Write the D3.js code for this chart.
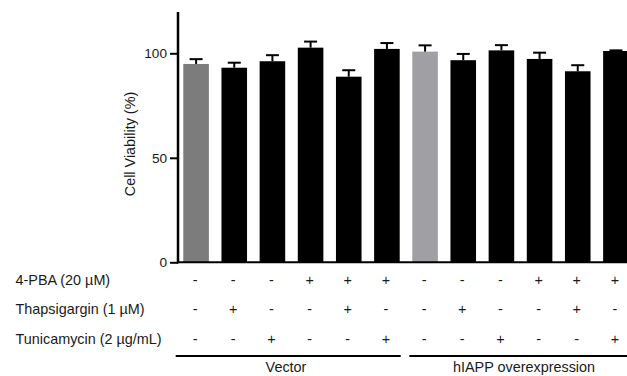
<!DOCTYPE html>
<html>
<head>
<meta charset="utf-8">
<script src="https://cdn.jsdelivr.net/npm/d3@7"></script>
<style>
  body { margin: 0; background: #fff; }
  text { font-family: "Liberation Sans", Arial, sans-serif; fill: #1a1a1a; }
</style>
</head>
<body>
<div id="main"></div>
<script>
// data
var conditions = ["v1", "v2", "v3", "v4", "v5", "v6", "h1", "h2", "h3", "h4", "h5", "h6"];
var viability = [94.9, 93.1, 96.2, 102.7, 88.8, 102.1, 100.8, 96.7, 101.4, 97.3, 91.4, 101.1];
var errors = [2.3, 2.4, 2.9, 2.9, 3.1, 2.8, 3.0, 3.0, 2.5, 3.0, 2.9, 0.3];
var barColors = ["#7c7c7c", "#000", "#000", "#000", "#000", "#000",
                 "#a0a0a4", "#000", "#000", "#000", "#000", "#000"];
var treatments = ["4-PBA (20 µM)", "Thapsigargin (1 µM)", "Tunicamycin (2 µg/mL)"];
var pba      = ["-", "-", "-", "+", "+", "+", "-", "-", "-", "+", "+", "+"];
var thapsi   = ["-", "+", "-", "-", "+", "-", "-", "+", "-", "-", "+", "-"];
var tunica   = ["-", "-", "+", "-", "-", "+", "-", "-", "+", "-", "-", "+"];
var groups = ["Vector", "hIAPP overexpression"];
var yTicks = [0, 50, 100];

var width = 627, height = 376;

var svg = d3.select("#main").append("svg")
    .attr("width", width)
    .attr("height", height);

var x = d3.scaleBand()
    .domain(conditions)
    .range([183.3, 628.7])
    .paddingInner(0.33)
    .paddingOuter(0);

var y = d3.scaleLinear()
    .domain([0, 100])
    .range([262.3, 53.3]);

var axisX = 178;

// bars
svg.append("g")
    .selectAll("rect")
    .data(viability)
    .enter()
    .append("rect")
    .attr("x", function(d, i) { return x(conditions[i]); })
    .attr("y", function(d) { return y(d); })
    .attr("width", x.bandwidth())
    .attr("height", function(d) { return y(0) - y(d); })
    .attr("fill", function(d, i) { return barColors[i]; });

// error bars (upper only)
var err = svg.append("g").attr("stroke", "#000").attr("stroke-width", 2);
viability.forEach(function(d, i) {
    var cx = x(conditions[i]) + x.bandwidth() / 2;
    err.append("line")
        .attr("x1", cx).attr("x2", cx)
        .attr("y1", y(d)).attr("y2", y(d + errors[i]));
    err.append("line")
        .attr("x1", cx - 6.5).attr("x2", cx + 6.5)
        .attr("y1", y(d + errors[i])).attr("y2", y(d + errors[i]));
});

// y axis
var yAxis = d3.axisLeft(y)
    .tickValues(yTicks)
    .tickSize(8)
    .tickPadding(3);
var gy = svg.append("g")
    .attr("transform", "translate(" + axisX + ",0)")
    .call(yAxis);
gy.select(".domain").remove();
gy.selectAll(".tick line").attr("stroke", "#000").attr("stroke-width", 2);
gy.selectAll(".tick text")
    .style("font-size", "13.6px")
    .style("font-family", "Liberation Sans, Arial, sans-serif")
    .attr("fill", "#1a1a1a");
svg.append("line")
    .attr("x1", axisX).attr("x2", axisX)
    .attr("y1", 12).attr("y2", y(0) + 1)
    .attr("stroke", "#000").attr("stroke-width", 2.5);

// x baseline
svg.append("line")
    .attr("x1", axisX - 1).attr("x2", width)
    .attr("y1", y(0)).attr("y2", y(0))
    .attr("stroke", "#000").attr("stroke-width", 2);

// y title
svg.append("text")
    .attr("transform", "translate(135,144) rotate(-90)")
    .attr("text-anchor", "middle")
    .style("font-size", "14.4px")
    .text("Cell Viability (%)");

// treatment table
var rows = [pba, thapsi, tunica];
var rowY = [280, 309, 339];
rows.forEach(function(row, r) {
    svg.append("text")
        .attr("x", 15.5)
        .attr("y", rowY[r])
        .attr("dy", "0.35em")
        .style("font-size", "14.4px")
        .text(treatments[r]);
    svg.append("g")
        .selectAll("text")
        .data(row)
        .enter()
        .append("text")
        .attr("x", function(d, i) { return x(conditions[i]) + x.bandwidth() / 2 - 1; })
        .attr("y", rowY[r])
        .attr("dy", "0.35em")
        .attr("text-anchor", "middle")
        .style("font-size", "14.4px")
        .text(function(d) { return d; });
});

// group brackets
var lineX = [[175.7, 400.7], [409.3, 627]];
var labelX = [286, 524];
groups.forEach(function(g, k) {
    svg.append("line")
        .attr("x1", lineX[k][0]).attr("x2", lineX[k][1])
        .attr("y1", 356).attr("y2", 356)
        .attr("stroke", "#000").attr("stroke-width", 2);
    svg.append("text")
        .attr("x", labelX[k])
        .attr("y", 367)
        .attr("dy", "0.35em")
        .attr("text-anchor", "middle")
        .style("font-size", "14.4px")
        .text(g);
});
</script>
</body>
</html>
